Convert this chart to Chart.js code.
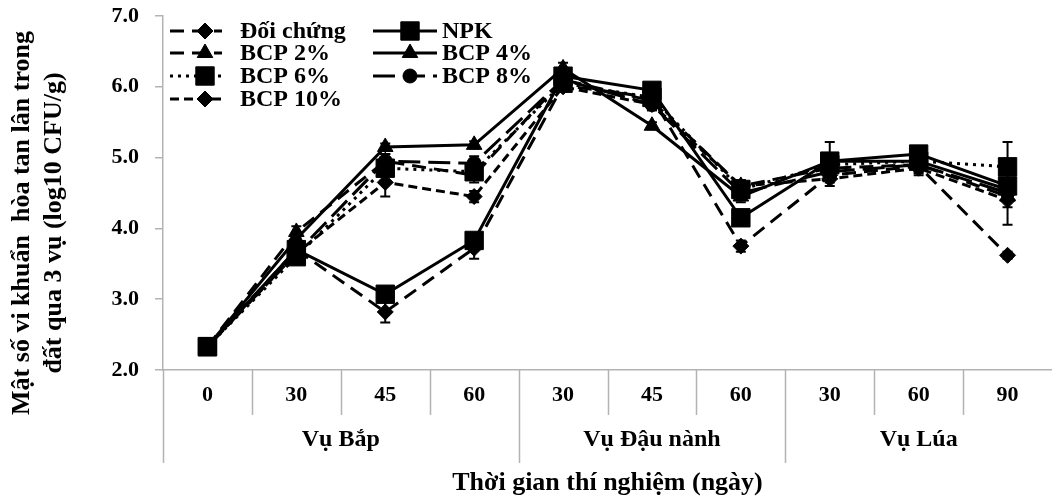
<!DOCTYPE html>
<html>
<head>
<meta charset="utf-8">
<script src="https://cdn.jsdelivr.net/npm/chart.js@4.4.0/dist/chart.umd.min.js"></script>
<style>
  html, body { margin: 0; padding: 0; background: #fff; }
  #wrap { width: 1052px; height: 499px; }
</style>
</head>
<body>
<div id="wrap"><canvas id="chart" width="1052" height="499"></canvas></div>
<script>
// ngày lấy mẫu theo từng vụ
const categories = ['0', '30', '45', '60', '30', '45', '60', '30', '60', '90'];
const groups = ['Vụ Bắp', 'Vụ Đậu nành', 'Vụ Lúa'];
const groupSizes = [4, 3, 3];
const yTicks = [2, 3, 4, 5, 6, 7];

// mật số (log10 CFU/g) và sai số
const doiChung = [2.33, 3.70, 2.82, 3.72, 6.02, 5.85, 3.75, 4.75, 4.88, 3.62];
const npk      = [2.33, 3.70, 3.07, 3.83, 6.15, 5.95, 4.15, 4.95, 5.05, 4.60];
const bcp2     = [2.33, 3.95, 4.95, 4.75, 6.10, 5.80, 4.60, 4.85, 4.90, 4.45];
const bcp4     = [2.33, 3.85, 5.15, 5.18, 6.26, 5.45, 4.45, 4.95, 4.95, 4.55];
const bcp6     = [2.33, 3.60, 4.85, 4.80, 6.05, 5.85, 4.55, 4.90, 4.95, 4.87];
const bcp8     = [2.33, 3.65, 4.95, 4.92, 6.10, 5.75, 4.50, 4.80, 4.90, 4.50];
const bcp10    = [2.33, 3.65, 4.65, 4.45, 6.00, 5.75, 4.60, 4.70, 4.85, 4.40];

const errDoiChung = [0.05, 0.10, 0.15, 0.15, 0.05, 0.08, 0.08, 0.10, 0.10, 0.05];
const errNpk      = [0.05, 0.08, 0.05, 0.08, 0.05, 0.05, 0.08, 0.27, 0.05, 0.10];
const errBcp2     = [0.05, 0.08, 0.10, 0.10, 0.05, 0.08, 0.08, 0.10, 0.10, 0.40];
const errBcp4     = [0.05, 0.10, 0.05, 0.05, 0.08, 0.05, 0.08, 0.10, 0.08, 0.10];
const errBcp6     = [0.05, 0.08, 0.10, 0.10, 0.05, 0.08, 0.08, 0.10, 0.10, 0.35];
const errBcp8     = [0.05, 0.08, 0.10, 0.10, 0.05, 0.08, 0.08, 0.10, 0.08, 0.10];
const errBcp10    = [0.05, 0.08, 0.20, 0.08, 0.05, 0.08, 0.08, 0.10, 0.10, 0.10];

const FONT = '"Liberation Serif", "Times New Roman", serif';
const AXIS_GRAY = '#b3b3b3';

function serie(label, data, err, style, radius, dash) {
    return {
        label: label, data: data, err: err,
        borderColor: '#000', backgroundColor: '#000',
        borderWidth: 3, borderDash: dash,
        pointStyle: style, pointRadius: radius, pointHoverRadius: radius,
        pointBackgroundColor: '#000', pointBorderColor: '#000', pointBorderWidth: 1,
        tension: 0, fill: false
    };
}

const datasets = [
    serie('Đối chứng', doiChung, errDoiChung, 'rectRot', 8, [14, 8]),
    serie('NPK', npk, errNpk, 'rect', 13, []),
    serie('BCP 2%', bcp2, errBcp2, 'triangle', 9, [14, 8]),
    serie('BCP 4%', bcp4, errBcp4, 'triangle', 9, []),
    serie('BCP 6%', bcp6, errBcp6, 'rect', 13, [3, 5]),
    serie('BCP 8%', bcp8, errBcp8, 'circle', 7, [22, 8]),
    serie('BCP 10%', bcp10, errBcp10, 'rectRot', 8, [9, 5])
];

// thanh sai số
const errorBars = {
    id: 'errorBars',
    afterDatasetsDraw(chart) {
        const ctx = chart.ctx, y = chart.scales.y;
        ctx.save();
        ctx.strokeStyle = '#000';
        ctx.lineWidth = 2;
        ctx.setLineDash([]);
        chart.data.datasets.forEach((ds, i) => {
            chart.getDatasetMeta(i).data.forEach((pt, j) => {
                const e = ds.err[j];
                const top = y.getPixelForValue(ds.data[j] + e);
                const bot = y.getPixelForValue(ds.data[j] - e);
                ctx.beginPath();
                ctx.moveTo(pt.x, top); ctx.lineTo(pt.x, bot);
                ctx.moveTo(pt.x - 5, top); ctx.lineTo(pt.x + 5, top);
                ctx.moveTo(pt.x - 5, bot); ctx.lineTo(pt.x + 5, bot);
                ctx.stroke();
            });
        });
        ctx.restore();
    }
};

// vạch chia nhóm, nhãn vụ, tiêu đề trục, chú thích
const decorations = {
    id: 'decorations',
    afterDraw(chart) {
        const ctx = chart.ctx, x = chart.scales.x, area = chart.chartArea;
        const step = x.getPixelForValue(1) - x.getPixelForValue(0);
        ctx.save();
        ctx.strokeStyle = AXIS_GRAY;
        ctx.lineWidth = 1.5;
        let idx = 0;
        const groupEdges = [0];
        groupSizes.forEach(n => { idx += n; groupEdges.push(idx); });
        for (let k = 0; k < categories.length; k++) {
            const px = Math.round(x.getPixelForValue(k) - step / 2) + 0.5;
            const long = groupEdges.includes(k);
            ctx.beginPath();
            ctx.moveTo(px, area.bottom);
            ctx.lineTo(px, long ? area.bottom + 93 : area.bottom + 45);
            ctx.stroke();
        }

        ctx.fillStyle = '#000';
        ctx.font = 'bold 24px ' + FONT;
        ctx.textAlign = 'center';
        ctx.textBaseline = 'middle';
        groups.forEach((g, gi) => {
            const a = x.getPixelForValue(groupEdges[gi]) - step / 2;
            const b = x.getPixelForValue(groupEdges[gi + 1] - 1) + step / 2;
            ctx.fillText(g, (a + b) / 2, area.bottom + 70);
        });
        ctx.font = 'bold 26px ' + FONT;
        ctx.fillText('Thời gian thí nghiệm (ngày)', (area.left + area.right) / 2, area.bottom + 113);

        ctx.save();
        ctx.translate(0, 223);
        ctx.rotate(-Math.PI / 2);
        ctx.fillText('Mật số vi khuẩn  hòa tan lân trong', 0, 22);
        ctx.fillText('đất qua 3 vụ (log10 CFU/g)', 0, 54);
        ctx.restore();

        // chú thích hai cột
        const cols = [
            { x0: 170, x1: 222, mx: 205, tx: 240 },
            { x0: 373, x1: 437, mx: 410, tx: 442 }
        ];
        const rows = [31, 53, 76, 99];
        ctx.font = 'bold 24px ' + FONT;
        ctx.textAlign = 'left';
        chart.data.datasets.forEach((ds, i) => {
            const c = cols[i % 2], ry = rows[Math.floor(i / 2)];
            ctx.strokeStyle = '#000';
            ctx.lineWidth = 3;
            ctx.setLineDash(ds.borderDash);
            ctx.beginPath();
            ctx.moveTo(c.x0, ry); ctx.lineTo(c.x1, ry);
            ctx.stroke();
            ctx.setLineDash([]);
            ctx.lineWidth = 1;
            Chart.helpers.drawPoint(ctx, {
                pointStyle: ds.pointStyle, radius: ds.pointRadius, rotation: 0, borderWidth: 1
            }, c.mx, ry);
            ctx.fillText(ds.label, c.tx, ry + 1);
        });
        ctx.restore();
    }
};

new Chart(document.getElementById('chart'), {
    type: 'line',
    data: { labels: categories, datasets: datasets },
    options: {
        responsive: false,
        animation: false,
        layout: { autoPadding: false, padding: { top: 16, right: 0, left: 0, bottom: 0 } },
        plugins: { legend: { display: false }, tooltip: { enabled: false } },
        scales: {
            x: {
                offset: true,
                grid: { display: false },
                border: { display: true, color: AXIS_GRAY, width: 1.5 },
                ticks: {
                    color: '#000', padding: 4, maxRotation: 0, autoSkip: false,
                    font: { family: FONT, size: 22, weight: 'bold' }
                },
                afterFit(scale) {
                    scale.height = 129;
                    scale.paddingLeft = 0;
                    scale.paddingRight = 0;
                }
            },
            y: {
                min: 2, max: 7,
                afterBuildTicks(scale) { scale.ticks = yTicks.map(v => ({ value: v })); },
                grid: { drawOnChartArea: false, tickLength: 8, color: AXIS_GRAY, lineWidth: 1.5 },
                border: { display: true, color: AXIS_GRAY, width: 1.5 },
                ticks: {
                    color: '#000', padding: 16,
                    font: { family: FONT, size: 22, weight: 'bold' },
                    callback: v => Number(v).toFixed(1)
                },
                afterFit(scale) {
                    scale.width = 163;
                    scale.paddingTop = 0;
                    scale.paddingBottom = 0;
                }
            }
        }
    },
    plugins: [errorBars, decorations]
});
</script>
</body>
</html>
